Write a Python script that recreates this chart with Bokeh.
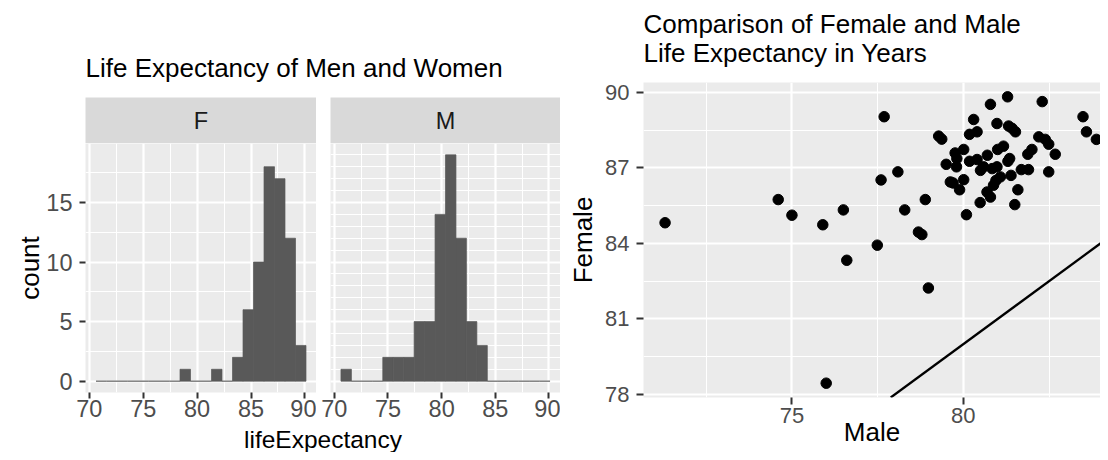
import numpy as np
from bokeh.plotting import figure
from bokeh.layouts import row, column
from bokeh.models import Range1d, FixedTicker, Slope, ColumnDataSource
from bokeh.core.properties import value
from bokeh.embed import file_html
from bokeh.resources import INLINE

# ---------------- data ----------------
bin_start = 70.62
bin_width = 0.974
f_counts = [0, 0, 0, 0, 0, 0, 0, 0, 1, 0, 0, 1, 0, 2, 6, 10, 18, 17, 12, 3]
m_counts = [1, 0, 0, 0, 2, 2, 2, 5, 5, 14, 19, 12, 5, 3, 0, 0, 0, 0, 0, 0]

male = [71.30, 74.60, 75.00, 75.90, 76.50, 76.60, 77.49, 77.60, 78.29, 76.00,
        77.69, 78.09, 78.69, 78.79, 78.89, 79.28, 79.37, 79.50, 79.62, 79.76,
        79.81, 79.80, 79.89, 80.01, 80.09, 80.01, 80.18, 80.30, 80.40, 80.18,
        80.40, 80.49, 80.59, 80.69, 80.79, 80.79, 80.88, 80.84, 80.98, 81.00,
        81.08, 81.17, 80.98, 81.29, 81.32, 81.42, 81.52, 81.35, 81.39, 81.50,
        81.59, 81.69, 81.90, 81.88, 82.00, 82.20, 82.30, 82.39, 82.49, 82.49,
        82.68, 83.49, 83.59, 83.88, 78.98, 79.70, 81.30, 80.50, 80.95, 80.70]
female = [84.82, 85.74, 85.12, 84.74, 85.33, 83.33, 83.93, 86.52, 85.33, 78.45,
          89.03, 86.84, 84.45, 84.35, 85.74, 88.26, 88.14, 87.14, 86.44, 87.59,
          87.37, 87.04, 86.13, 87.73, 85.14, 86.53, 88.33, 88.92, 88.43, 87.26,
          87.33, 85.62, 87.04, 86.04, 89.52, 85.84, 86.31, 86.97, 88.76, 87.73,
          86.64, 87.86, 87.04, 89.82, 88.66, 88.57, 88.43, 87.37, 86.70, 85.54,
          86.13, 86.93, 86.93, 87.54, 87.73, 88.23, 89.63, 88.13, 87.94, 86.84,
          87.54, 89.03, 88.43, 88.13, 82.23, 86.40, 87.26, 86.90, 86.50, 87.50]

hist_xticks = [70, 75, 80, 85, 90]
hist_xminor = [72.5, 77.5, 82.5, 87.5]
hist_yticks = [0, 5, 10, 15]
hist_yminor = [2.5, 7.5, 12.5, 17.5]
sc_xticks = [75, 80]
sc_xminor = [72.5, 77.5, 82.5]
sc_yticks = [78, 81, 84, 87, 90]
sc_yminor = [79.5, 82.5, 85.5, 88.5]
x_view_max = 84.0  # the reference's panel is cut at the right edge of the image

# ---------------- style ----------------
FONT = "Liberation Sans"
PANEL_BG = "#EBEBEB"
STRIP_BG = "#D9D9D9"
BAR = "#595959"
HIST_TICK_FS = "23.5px"
SC_TICK_FS = "22px"
STRIP_FS = "23.5px"
AXT_FS = "26px"
TITLE_FS = "26px"

edges = bin_start + bin_width * np.arange(len(f_counts) + 1)
hx0 = edges[0] - 0.05 * (edges[-1] - edges[0])
hx1 = edges[-1] + 0.05 * (edges[-1] - edges[0])
ymax = max(max(f_counts), max(m_counts))
hy0, hy1 = -0.05 * ymax, ymax * 1.05


def style_axes(p, xt, xm, yt, ym, tick_fs, tick_len):
    p.background_fill_color = PANEL_BG
    p.border_fill_color = "white"
    p.outline_line_color = None
    p.xaxis.ticker = FixedTicker(ticks=xt, minor_ticks=xm)
    p.yaxis.ticker = FixedTicker(ticks=yt, minor_ticks=ym)
    for ax in p.xaxis + p.yaxis:
        ax.axis_line_color = None
        ax.major_tick_line_color = "#333333"
        ax.major_tick_line_width = 2
        ax.major_tick_in = 0
        ax.major_tick_out = tick_len
        ax.minor_tick_line_color = None
        ax.major_label_text_font = FONT
        ax.major_label_text_font_size = tick_fs
        ax.major_label_text_color = "#4D4D4D"
        ax.axis_label_text_font = FONT
        ax.axis_label_text_font_size = AXT_FS
        ax.axis_label_text_font_style = "normal"
        ax.axis_label_text_color = "black"
    for ax in p.yaxis:
        ax.major_label_standoff = 7
    for g in p.xgrid + p.ygrid:
        g.grid_line_color = "white"
        g.grid_line_width = 2.2
        g.minor_grid_line_color = "white"
        g.minor_grid_line_width = 1.1


def hist_panel(counts, width, left_border, show_y):
    p = figure(width=width, height=283, output_backend="svg", toolbar_location=None,
               title=None,
               x_range=Range1d(hx0, hx1), y_range=Range1d(hy0, hy1),
               min_border_left=left_border, min_border_right=0,
               min_border_top=0, min_border_bottom=34,
               y_axis_location="left" if show_y else None)
    src = ColumnDataSource(dict(left=edges[:-1], right=edges[1:], top=counts,
                                bottom=[0] * len(counts)))
    p.quad(left="left", right="right", top="top", bottom="bottom", source=src,
           fill_color=BAR, line_color=BAR, line_width=0.7)
    style_axes(p, hist_xticks, hist_xminor, hist_yticks, hist_yminor,
               HIST_TICK_FS, 6)
    p.xaxis.major_label_standoff = 1
    if show_y:
        p.yaxis.axis_label = "count"
        p.yaxis.axis_label_standoff = -2
    return p


def text_panel(texts, width, height, xs, ys, align, fs, color="black",
               bg=None, left_border=0):
    fw = width - left_border
    p = figure(width=width, height=height, output_backend="svg", toolbar_location=None,
               title=None,
               x_range=Range1d(0, fw), y_range=Range1d(0, height),
               min_border_left=left_border, min_border_right=0,
               min_border_top=0, min_border_bottom=0,
               x_axis_location=None, y_axis_location=None)
    p.outline_line_color = None
    p.grid.visible = False
    p.background_fill_color = bg if bg else "white"
    p.border_fill_color = "white"
    p.text(x=xs, y=ys, text=texts, text_align=align, text_baseline="middle",
           text_font=value(FONT), text_font_size=fs, text_color=color)
    return p


# left chart: F frame 85..316, M frame 330..560 (picture pixels)
FW, FL = 316, 85
MW, ML = 244, 14
LW = FW + MW

title_left = text_panel(["Life Expectancy of Men and Women"], LW, 97, [FL], [30],
                        "left", TITLE_FS)
strip_f = text_panel(["F"], FW, 46, [(FW - FL) / 2], [23], "center", STRIP_FS,
                     color="#1A1A1A", bg=STRIP_BG, left_border=FL)
strip_m = text_panel(["M"], MW, 46, [(MW - ML) / 2], [23], "center", STRIP_FS,
                     color="#1A1A1A", bg=STRIP_BG, left_border=ML)
hist_f = hist_panel(f_counts, FW, FL, True)
hist_m = hist_panel(m_counts, MW, ML, False)
xlab = text_panel(["lifeExpectancy"], LW, 26, [(FL + LW) / 2], [13],
                  "center", "24.5px")

left = column(title_left, row(strip_f, strip_m), row(hist_f, hist_m), xlab)

# ---------------- scatter ----------------
sx0 = min(male) - 0.05 * (max(male) - min(male))
sy0 = min(female) - 0.05 * (max(female) - min(female))
sy1 = max(female) + 0.05 * (max(female) - min(female))

RW, RL = 540, 83
title_right = text_panel(["Comparison of Female and Male", "Life Expectancy in Years"],
                         RW, 70, [0, 0], [46.5, 17.5], "left", TITLE_FS,
                         left_border=RL)

sc = figure(width=RW, height=382, output_backend="svg", toolbar_location=None,
            title=None,
            x_range=Range1d(sx0, x_view_max), y_range=Range1d(sy0, sy1),
            min_border_left=RL, min_border_right=0, min_border_top=12,
            min_border_bottom=55)
style_axes(sc, sc_xticks, sc_xminor, sc_yticks, sc_yminor, SC_TICK_FS, 7)
sc.xaxis.major_label_standoff = 3
sc.xaxis.axis_label = "Male"
sc.xaxis.axis_label_standoff = -9
sc.yaxis.axis_label = "Female"
sc.yaxis.axis_label_standoff = 4
sc.add_layout(Slope(gradient=1, y_intercept=0, line_color="black", line_width=2.3))
sc.scatter(male, female, size=10.5, color="black")

right = column(title_right, sc)

layout = row(left, right)

open("out.html", "w").write(file_html(layout, INLINE))
